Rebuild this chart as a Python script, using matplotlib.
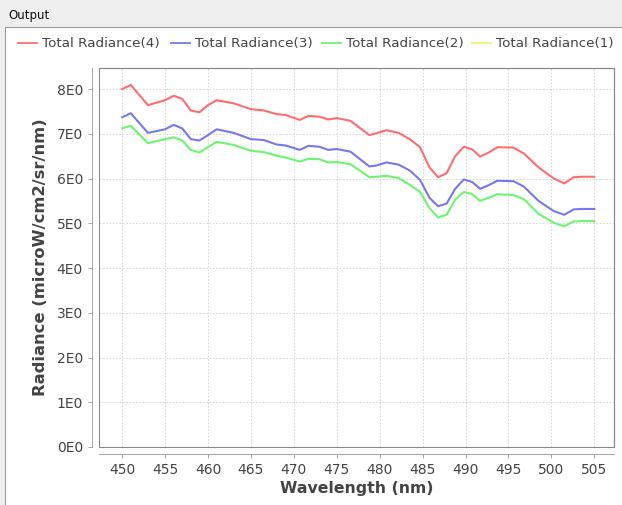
import matplotlib
matplotlib.use('Agg')
import matplotlib.pyplot as plt
import matplotlib.patches as mpatches
from matplotlib.lines import Line2D

wavelength = [450, 451, 453, 455, 456, 457, 458, 459, 460, 461, 463, 465, 466.5, 468, 469,
              470.7, 471.7, 473, 474, 475, 476.6, 478.8, 479.6, 480.8, 482.2, 483.5, 484.7,
              485.8, 486.8, 487.8, 488.8, 489.8, 490.8, 491.7, 492.7, 493.7, 495.6, 496.8,
              498.5, 500.3, 501.5, 502.6, 503.6, 505]
rad4 = [8.00, 8.09, 7.64, 7.75, 7.85, 7.78, 7.52, 7.48, 7.64, 7.75, 7.68, 7.55, 7.52, 7.44, 7.42,
        7.31, 7.40, 7.38, 7.32, 7.35, 7.29, 6.97, 7.01, 7.08, 7.02, 6.88, 6.70,
        6.25, 6.03, 6.12, 6.50, 6.71, 6.65, 6.49, 6.58, 6.70, 6.69, 6.56,
        6.25, 6.00, 5.89, 6.03, 6.04, 6.04]
rad3 = [7.37, 7.46, 7.02, 7.10, 7.20, 7.12, 6.88, 6.85, 6.97, 7.10, 7.02, 6.88, 6.86, 6.76, 6.74,
        6.64, 6.73, 6.71, 6.64, 6.66, 6.60, 6.27, 6.29, 6.36, 6.31, 6.18, 5.97,
        5.57, 5.38, 5.44, 5.77, 5.98, 5.92, 5.77, 5.85, 5.95, 5.94, 5.82,
        5.50, 5.27, 5.19, 5.31, 5.32, 5.32]
rad2 = [7.12, 7.18, 6.79, 6.88, 6.92, 6.85, 6.64, 6.58, 6.70, 6.82, 6.75, 6.62, 6.59, 6.51, 6.47,
        6.38, 6.44, 6.43, 6.36, 6.37, 6.32, 6.03, 6.04, 6.06, 6.01, 5.86, 5.70,
        5.34, 5.13, 5.19, 5.53, 5.70, 5.65, 5.50, 5.57, 5.65, 5.63, 5.54,
        5.21, 5.01, 4.93, 5.04, 5.05, 5.05]
rad1 = []  # series (1) has no visible points

series_names = ['Total Radiance(4)', 'Total Radiance(3)', 'Total Radiance(2)', 'Total Radiance(1)']
series_colors = ['#FF6E6E', '#7878EE', '#6EF56E', '#F5F56E']
xticks = list(range(450, 510, 5))
yticks = list(range(0, 9))

W, H = 622, 505
fig = plt.figure(figsize=(W / 100, H / 100), dpi=100)
fig.patch.set_facecolor('#EFEFEF')

# panel: header strip + white content with border (background axes)
bg = fig.add_axes([0, 0, 1, 1], zorder=-5)
bg.set_xlim(0, W)
bg.set_ylim(H, 0)
bg.axis('off')
bg.add_patch(mpatches.Rectangle((5, 27), W, H, facecolor='white', edgecolor='#9A9A9A', linewidth=0.8))
bg.text(8, 16, 'Output', fontsize=8.5, color='#111111', va='center', ha='left')

ax = fig.add_axes([99 / W, (H - 447) / H, 515 / W, 379 / H])
ax.set_facecolor('white')

for ys, c in zip([rad4, rad3, rad2], series_colors[:3]):
    ax.plot(wavelength, ys, color=c, linewidth=1.5, zorder=3)
ax.plot(wavelength[:len(rad1)], rad1, color=series_colors[3], linewidth=1.5, zorder=3)

ax.set_xlim(447.3, 507.3)
ax.set_ylim(0, 8.47)
ax.set_xticks(xticks)
ax.set_yticks(yticks)
ax.set_yticklabels([f'{v}E0' for v in yticks])
ax.grid(True, color='#D2D2D2', linestyle=(0, (2, 2)), linewidth=0.6, zorder=0)

for s in ['top', 'right']:
    ax.spines[s].set_color('#8A8A8A')
    ax.spines[s].set_linewidth(0.8)
for s in ['left', 'bottom']:
    ax.spines[s].set_position(('outward', 5))
    ax.spines[s].set_color('#9A9A9A')
    ax.spines[s].set_linewidth(0.6)
ax.add_patch(mpatches.Rectangle((0, 0), 1, 1, transform=ax.transAxes, fill=False,
                                edgecolor='#8A8A8A', linewidth=0.8, zorder=4, clip_on=False))

ax.tick_params(colors='#9A9A9A', labelcolor='#444444', labelsize=10, length=3, width=0.6)
ax.set_xlabel('Wavelength (nm)', fontsize=11.3, fontweight='bold', color='#444444', labelpad=3)
ax.set_ylabel('Radiance (microW/cm2/sr/nm)', fontsize=11.8, fontweight='bold', color='#444444', labelpad=6)

# legend across the top of the panel
leg_x = [18, 171, 322, 472]
for x0, name, c in zip(leg_x, series_names, series_colors):
    bg.add_line(Line2D([x0, x0 + 19], [43, 43], color=c, linewidth=1.3))
    bg.text(x0 + 24, 43, name, fontsize=9.7, color='#444444', va='center', ha='left')

plt.savefig('out.png', dpi=100, facecolor=fig.get_facecolor())
